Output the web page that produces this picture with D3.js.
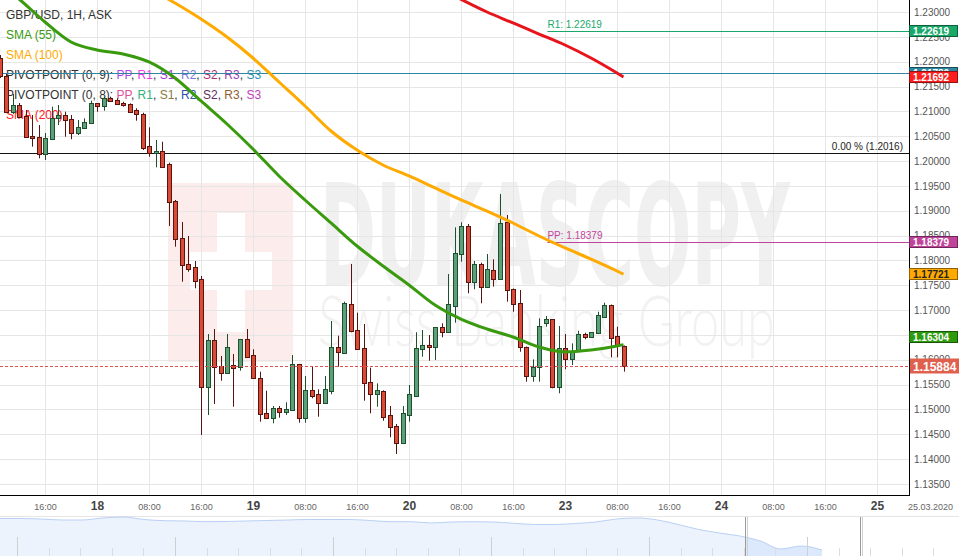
<!DOCTYPE html>
<html><head><meta charset="utf-8">
<script src="https://cdn.jsdelivr.net/npm/d3@7"></script>
<style>html,body{margin:0;padding:0;background:#fff;}svg{display:block;font-family:"Liberation Sans",Arial,sans-serif;}</style>
</head><body><svg id="c" width="959" height="556"></svg>
<script>
// ---------- DATA ----------
const firstSlot = -15; // hourly slots, 0 = 18 Mar 00:00, weekend removed
const open = [1.22074,1.21712,1.20987,1.21128,1.20913,1.20504,1.20478,1.20142,1.20438,1.20860,1.20921,1.20840,1.20558,1.20659,1.20760,
 1.21162,1.21108,1.21275,1.21229,1.21174,1.21148,1.21027,1.20947,1.20303,1.20156,1.20202,
 1.19940,1.19196,1.18445,1.17921,1.17867,1.17620,1.15446,1.16392,1.15868,1.15727,1.15888,1.15848,1.16412,1.16090,
 1.15627,1.14922,1.14822,1.15023,1.14954,1.14989,1.15909,1.14834,1.15391,1.15311,1.15124,
 1.15377,1.16251,1.16142,1.17116,1.16599,1.16231,1.15552,1.15305,1.15371,1.14882,1.14667,1.14330,1.14888,
 1.15277,1.16211,1.16297,1.16251,1.16653,1.16565,1.17088,1.18123,1.18692,1.17559,1.17928,
 1.17471,1.17807,1.17620,1.18767,1.17424,1.17136,1.16263,1.15679,1.15848,1.16746,1.16814,1.15446,1.16231,1.16009,1.16196,1.16518,1.16452,1.16533,1.16867,1.17102,1.16484,1.16283];
const high = [1.22134,1.21752,1.21349,1.21168,1.21027,1.20927,1.20725,1.20564,1.21094,1.21128,1.20993,1.20927,1.20826,1.20860,1.21215,
 1.21168,1.21295,1.21295,1.21263,1.21194,1.21162,1.21062,1.20973,1.20679,1.20423,1.20389,
 1.19967,1.19216,1.18773,1.18491,1.17988,1.17686,1.16518,1.16619,1.16076,1.16518,1.16116,1.16418,1.16619,1.16211,
 1.15760,1.15377,1.15069,1.15069,1.15144,1.16096,1.15915,1.15673,1.15874,1.15405,1.15673,
 1.16780,1.16484,1.17169,1.17928,1.16947,1.16720,1.15840,1.15526,1.15385,1.15069,1.14707,1.15069,1.15492,
 1.16553,1.16599,1.16498,1.16653,1.16734,1.17726,1.18666,1.18767,1.18733,1.17988,1.17954,
 1.18129,1.18022,1.19337,1.18914,1.17434,1.17404,1.16267,1.16009,1.16834,1.16881,1.16820,1.16679,1.16518,1.16331,1.16585,1.16545,1.16553,1.16967,1.17149,1.17112,1.16665,1.16287];
const low = [1.21671,1.20967,1.20947,1.20866,1.20464,1.20289,1.20055,1.20021,1.20423,1.20725,1.20490,1.20438,1.20524,1.20645,1.20756,
 1.20993,1.21013,1.21194,1.21128,1.21094,1.20987,1.20812,1.20222,1.20087,1.19874,1.19874,
 1.18692,1.18276,1.17571,1.17772,1.17438,1.14485,1.14888,1.15110,1.15578,1.15713,1.15055,1.15780,1.16041,1.15620,
 1.14753,1.14822,1.14721,1.14834,1.14888,1.14980,1.14733,1.14733,1.15224,1.14854,1.15110,
 1.15305,1.15860,1.16136,1.16553,1.16205,1.15176,1.14922,1.15055,1.14773,1.14439,1.14103,1.14324,1.14753,
 1.15270,1.16061,1.15981,1.15995,1.16452,1.16560,1.16746,1.17974,1.17338,1.17418,1.17136,
 1.17465,1.17471,1.17615,1.17169,1.16967,1.16162,1.15558,1.15558,1.15558,1.16665,1.15425,1.15325,1.15808,1.15894,1.16186,1.16412,1.16448,1.16529,1.16861,1.16049,1.16049,1.15760];
const close = [1.21712,1.20987,1.21128,1.20893,1.20478,1.20458,1.20142,1.20458,1.20860,1.20927,1.20826,1.20558,1.20679,1.20786,1.21162,
 1.21108,1.21275,1.21209,1.21148,1.21128,1.20993,1.20941,1.20268,1.20156,1.20202,1.19886,
 1.19169,1.18425,1.17901,1.17833,1.17591,1.15446,1.16392,1.15848,1.15727,1.16251,1.15840,1.16412,1.16061,1.15627,
 1.14902,1.14822,1.15023,1.14954,1.15003,1.15909,1.14834,1.15391,1.15277,1.15124,1.15405,
 1.16251,1.16162,1.17136,1.16585,1.16211,1.15526,1.15305,1.15385,1.14854,1.14653,1.14330,1.14922,1.15305,
 1.16231,1.16297,1.16251,1.16653,1.16565,1.17116,1.18143,1.18692,1.17559,1.17928,1.17458,
 1.17821,1.17620,1.18747,1.17404,1.17122,1.16251,1.15679,1.15848,1.16679,1.16814,1.15446,1.16231,1.16009,1.16182,1.16518,1.16452,1.16553,1.16901,1.17102,1.16444,1.16283,1.15884];

const sma55Slots = [-15,-12,-8,-4,0,4,8,12,16,20,24,28,32,36,40,44,48,52,56,60,64,68,72,76,80,81];
const sma55Vals  = [1.23564,1.23262,1.22799,1.22396,1.22235,1.22155,1.21994,1.21671,1.21209,1.20746,1.20242,1.19699,1.19216,1.18753,1.18290,1.17887,1.17505,1.17102,1.16820,1.16619,1.16458,1.16257,1.16156,1.16196,1.16277,1.16304];
const sma100Slots = [9,12,16,20,24,28,32,36,40,44,48,52,56,60,64,68,72,76,80,81];
const sma100Vals  = [1.23403,1.23181,1.22859,1.22497,1.22074,1.21591,1.21108,1.20605,1.20222,1.19920,1.19699,1.19458,1.19216,1.18994,1.18753,1.18491,1.18250,1.18028,1.17787,1.17721];
const sma200Slots = [55,60,64,68,72,76,80,81];
const sma200Vals  = [1.23322,1.23000,1.22779,1.22557,1.22336,1.22074,1.21772,1.21692];

const priceTicks = [1.135,1.14,1.145,1.15,1.155,1.16,1.165,1.17,1.175,1.18,1.185,1.19,1.195,1.2,1.205,1.21,1.215,1.22,1.225,1.23];
const timeTickSlots  = [-8,0,8,16,24,32,40,48,56,64,72,80,88,96,104,112,120];
const timeTickLabels = ["16:00","18","08:00","16:00","19","08:00","16:00","20","08:00","16:00","23","08:00","16:00","24","08:00","16:00","25"];
const dateLabel = "25.03.2020";

const r1Value = 1.22619, ppValue = 1.18379, fibValue = 1.2016, pivotTealValue = 1.21780, lastPrice = 1.15884;
const markerValues = [1.22619, 1.21780, 1.21692, 1.18379, 1.17721, 1.16304];
const markerColors = ["#1aa86a", "#2e86a0", "#ff1f1f", "#c0449a", "#ffaa00", "#2e9a0e"];
const markerText   = ["#fff", "#fff", "#fff", "#fff", "#222", "#fff"];

const navValues = [1.3188,1.3188,1.3165,1.3120,1.3120,1.3210,1.3255,1.3143,1.3089,1.3075,1.3044,1.3053,1.3075,1.3098,1.3120,1.3143,1.3143,1.3143,1.3098,1.3044,1.3044,1.2985,1.3030,1.3044,1.3030,1.2972,1.2918,1.2918,1.2963,1.3030,1.3165,1.3210,1.3120,1.2918,1.2693,1.2535,1.2400,1.2175,1.1815,1.1950,1.1770];

// ---------- CHART ----------
const svg = d3.select("#c");
const PR = 909, PB = 495;
const x = d3.scaleLinear().domain([-97/6.5, (PR-97)/6.5]).range([0, PR]);
const y = d3.scaleLinear().domain([1.23, 1.135]).range([12, 12 + 0.095*4968]);
const candles = open.map((o,i)=>({slot:firstSlot+i,o,h:high[i],l:low[i],c:close[i]}));

svg.append("defs").append("clipPath").attr("id","clip").append("rect").attr("x",0).attr("y",0).attr("width",PR).attr("height",PB);
const g = svg.append("g").attr("clip-path","url(#clip)");

// watermark
const wm = g.append("g");
wm.append("rect").attr("x",168).attr("y",183).attr("width",125).attr("height",179).attr("fill","#fcecec");
wm.append("rect").attr("x",217).attr("y",213).attr("width",28).attr("height",119).attr("fill","#fff");
wm.append("rect").attr("x",190).attr("y",252).attr("width",82).attr("height",38).attr("fill","#fff");
wm.append("text").attr("x",320).attr("y",285).attr("textLength",470).attr("lengthAdjust","spacingAndGlyphs")
  .attr("font-family","DejaVu Sans").attr("font-weight","bold").attr("font-size",140).attr("fill","#f0f0f0").text("DUKASCOPY");
wm.append("text").attr("x",318).attr("y",346).attr("textLength",457).attr("lengthAdjust","spacingAndGlyphs")
  .attr("font-family","Lato, 'Open Sans', sans-serif").attr("font-weight",300).attr("font-size",70).attr("fill","#f2f2f2").text("Swiss Banking Group");

// grid
const crisp = v => Math.round(v)+0.5;
g.append("g").selectAll("line").data(priceTicks).join("line")
  .attr("x1",0).attr("x2",PR).attr("y1",d=>crisp(y(d))).attr("y2",d=>crisp(y(d))).attr("stroke","#e6e6e6");
g.append("g").selectAll("line").data(timeTickSlots).join("line")
  .attr("y1",0).attr("y2",PB).attr("x1",d=>crisp(x(d))).attr("x2",d=>crisp(x(d))).attr("stroke","#e6e6e6");

// legend
const legend = g.append("g").attr("font-size",12);
const legendLines = [
  [["GBP/USD, 1H, ASK","#333"]],
  [["SMA (55)","#3a9a10"]],
  [["SMA (100)","#ffaa00"]],
  [["PIVOTPOINT (0, 9): ","#333"],["PP","#b048e8"],[", ","#333"],["R1","#f03ee8"],[", ","#333"],["S1","#a030d0"],[", ","#333"],["R2","#7878e0"],[", ","#333"],["S2","#b03070"],[", ","#333"],["R3","#9a40b0"],[", ","#333"],["S3","#2a90b0"]],
  [["PIVOTPOINT (0, 8): ","#333"],["PP","#e0509a"],[", ","#333"],["R1","#30b080"],[", ","#333"],["S1","#8a7a40"],[", ","#333"],["R2","#3050a8"],[", ","#333"],["S2","#603060"],[", ","#333"],["R3","#906030"],[", ","#333"],["S3","#c040c0"]],
  [["SMA (200)","#ff2020"]]
];
legendLines.forEach((parts,i)=>{
  const t = legend.append("text").attr("x",6).attr("y",19+i*20);
  parts.forEach(p=>t.append("tspan").attr("fill",p[1]).text(p[0]));
});

// horizontal study lines
g.append("line").attr("x1",0).attr("x2",PR).attr("y1",crisp(y(fibValue))).attr("y2",crisp(y(fibValue))).attr("stroke","#111");
g.append("text").attr("x",903).attr("y",y(fibValue)-3).attr("text-anchor","end").attr("font-size",10).attr("fill","#222").text("0.00 % ("+fibValue.toFixed(4)+")");
g.append("line").attr("x1",0).attr("x2",PR).attr("y1",crisp(y(pivotTealValue))).attr("y2",crisp(y(pivotTealValue))).attr("stroke","#2e86a0");
const levelStart = x(69.3);
[[r1Value,"R1","#1aa86a"],[ppValue,"PP","#c0449a"]].forEach(([v,lab,col])=>{
  g.append("line").attr("x1",levelStart).attr("x2",PR).attr("y1",crisp(y(v))).attr("y2",crisp(y(v))).attr("stroke",col);
  g.append("text").attr("x",levelStart).attr("y",y(v)-3).attr("font-size",10).attr("fill",col).text(lab+": "+v.toFixed(5));
});

// candles
const cg = g.append("g");
candles.forEach(d=>{
  const up = d.c >= d.o;
  const cx = Math.round(x(d.slot));
  const dark = up ? "#1e502d" : "#5a140f";
  cg.append("line").attr("x1",cx+0.5).attr("x2",cx+0.5).attr("y1",y(d.h)).attr("y2",y(d.l)).attr("stroke",dark);
  const top = Math.round(y(Math.max(d.o,d.c))), bot = Math.round(y(Math.min(d.o,d.c)));
  cg.append("rect").attr("x",cx-1.5).attr("y",top+0.5).attr("width",4).attr("height",Math.max(1,bot-top))
    .attr("fill", up ? "#5ba078" : "#d94b37").attr("stroke",dark);
});

// last price dashed line
g.append("line").attr("x1",0).attr("x2",PR).attr("y1",crisp(y(lastPrice))).attr("y2",crisp(y(lastPrice)))
  .attr("stroke","#d9534f").attr("stroke-dasharray","3,2");

// SMAs
const line = d3.line().x(d=>x(d[0])).y(d=>y(d[1])).curve(d3.curveMonotoneX);
[[sma100Slots,sma100Vals,"#ffaa00"],[sma55Slots,sma55Vals,"#3a9a0e"],[sma200Slots,sma200Vals,"#e8141c"]].forEach(([s,v,col])=>{
  g.append("path").datum(s.map((t,i)=>[t,v[i]])).attr("d",line).attr("fill","none").attr("stroke",col).attr("stroke-width",3);
});

// axes frame
svg.append("line").attr("x1",0).attr("x2",PR).attr("y1",PB+0.5).attr("y2",PB+0.5).attr("stroke","#000");
svg.append("line").attr("x1",PR+0.5).attr("x2",PR+0.5).attr("y1",0).attr("y2",PB+1).attr("stroke","#000");

// right axis
const ya = svg.append("g").attr("transform",`translate(${PR},0)`)
  .call(d3.axisRight(y).tickValues(priceTicks).tickFormat(d3.format(".5f")).tickSize(0).tickPadding(5));
ya.select(".domain").remove();
ya.selectAll("text").attr("font-size",10).attr("fill","#555").attr("font-family","Liberation Sans, Arial, sans-serif");

// bottom axis
const xa = svg.append("g").attr("transform",`translate(0,${PB})`)
  .call(d3.axisBottom(x).tickValues(timeTickSlots).tickFormat((d,i)=>timeTickLabels[i]).tickSize(0));
xa.select(".domain").remove();
xa.selectAll("text").attr("dy",null).attr("y",14.5).attr("font-family","Liberation Sans, Arial, sans-serif")
  .attr("font-size",(d,i)=>timeTickLabels[i].includes(":")?9:12)
  .attr("font-weight",(d,i)=>timeTickLabels[i].includes(":")?"normal":"bold")
  .attr("fill",(d,i)=>timeTickLabels[i].includes(":")?"#666":"#444");
svg.append("text").attr("x",953).attr("y",PB+14.5).attr("text-anchor","end").attr("font-size",9).attr("fill","#666").text(dateLabel);

// price markers
const mk = svg.append("g");
markerValues.forEach((v,i)=>{
  const cy = y(v) + (v===1.16304 ? -8 : 0);
  mk.append("rect").attr("x",PR+0.5).attr("y",Math.round(cy-6)+0.5).attr("width",48).attr("height",11)
    .attr("fill",markerColors[i]).attr("stroke",d3.color(markerColors[i]).darker(1.6));
  mk.append("text").attr("x",PR+4).attr("y",Math.round(cy)+4).attr("font-size",10).attr("font-weight","bold")
    .attr("fill",markerText[i]).text(v.toFixed(5));
});
mk.append("rect").attr("x",PR+1).attr("y",Math.round(y(lastPrice))-7.5).attr("width",49).attr("height",15).attr("fill","#e0604e");
mk.append("text").attr("x",PR+4).attr("y",Math.round(y(lastPrice))+4.5).attr("font-size",12).attr("font-weight","bold").attr("fill","#fff").text(lastPrice.toFixed(5));

// navigator
const nav = svg.append("g");
nav.append("line").attr("x1",0).attr("x2",959).attr("y1",516.5).attr("y2",516.5).attr("stroke","#e6e6e6");
const nx = d3.scaleLinear().domain([0, navValues.length-1]).range([0, 822]);
const ny = d3.scaleLinear().domain([1.15, 1.33]).range([556, 516]);
const navArea = d3.area().x((d,i)=>nx(i)).y0(556).y1(d=>ny(d)).curve(d3.curveMonotoneX);
const navLine = d3.line().x((d,i)=>nx(i)).y(d=>ny(d)).curve(d3.curveMonotoneX);
const defs = svg.select("defs");
defs.append("clipPath").attr("id","navL").append("rect").attr("x",0).attr("y",500).attr("width",746).attr("height",60);
defs.append("clipPath").attr("id","navR").append("rect").attr("x",746).attr("y",500).attr("width",120).attr("height",60);
nav.append("path").datum(navValues).attr("d",navArea).attr("fill","#edf3fd").attr("clip-path","url(#navL)");
nav.append("path").datum(navValues).attr("d",navArea).attr("fill","#dce8fb").attr("clip-path","url(#navR)");
nav.append("path").datum(navValues).attr("d",navLine).attr("fill","none").attr("stroke","#b9d0f5");
d3.range(0,30).forEach(k=>{
  const tx = Math.round(17 + k*31.6)+0.5;
  const tall = k%5===0;
  nav.append("line").attr("x1",tx).attr("x2",tx).attr("y1",tall?537:548).attr("y2",556).attr("stroke",tall?"#cfcfcf":"#dddddd");
});
[746, 861].forEach(hx=>{
  nav.append("line").attr("x1",hx-0.5).attr("x2",hx-0.5).attr("y1",517).attr("y2",556).attr("stroke","#999");
  nav.append("line").attr("x1",hx+1.5).attr("x2",hx+1.5).attr("y1",517).attr("y2",556).attr("stroke","#d0d0d0");
});
</script></body></html>
